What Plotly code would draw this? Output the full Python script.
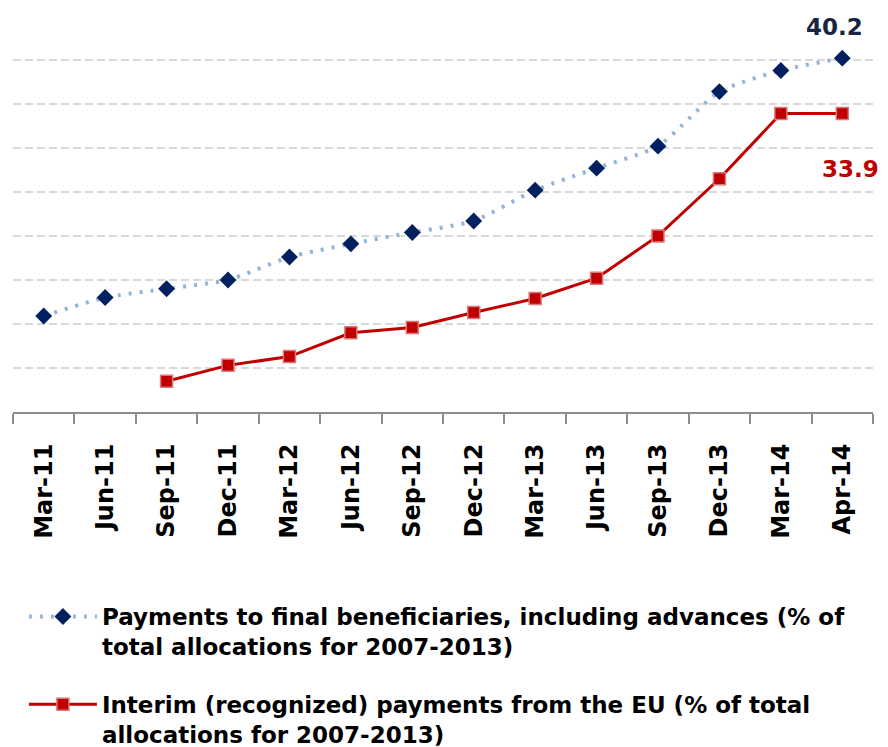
import plotly.graph_objects as go

categories = ["Mar-11", "Jun-11", "Sep-11", "Dec-11", "Mar-12", "Jun-12", "Sep-12",
              "Dec-12", "Mar-13", "Jun-13", "Sep-13", "Dec-13", "Mar-14", "Apr-14"]
payments_beneficiaries = [10.9, 13.0, 14.0, 15.0, 17.6, 19.1, 20.4, 21.7, 25.2, 27.7,
                          30.2, 36.4, 38.8, 40.2]
interim_payments = [None, None, 3.5, 5.3, 6.3, 9.0, 9.6, 11.3, 12.9, 15.2,
                    20.0, 26.5, 33.9, 33.9]

name_benef = "Payments to final beneficiaries, including advances (% of<br>total allocations for 2007-2013)"
name_interim = "Interim (recognized) payments from the EU (% of total<br>allocations for 2007-2013)"
title_text = "EU Structural Funds"

FONT = "'DejaVu Sans', 'Open Sans', sans-serif"

fig = go.Figure()
fig.add_trace(go.Scatter(
    x=categories, y=payments_beneficiaries, name=name_benef, mode="lines+markers",
    legendgroup="a",
    line=dict(color="#95B3D7", width=4, dash="3px,8px", shape="spline", smoothing=0.6),
    marker=dict(symbol="diamond", size=13, color="#002060"),
))
fig.add_trace(go.Scatter(
    x=categories, y=interim_payments, name=name_interim, mode="lines+markers",
    legendgroup="b",
    line=dict(color="#C00000", width=3),
    marker=dict(symbol="square", size=12, color="#C00000",
                line=dict(color="#D87878", width=1.5)),
))

fig.add_annotation(x=categories[-1], y=payments_beneficiaries[-1], text="<b>40.2</b>",
                   showarrow=False, yshift=31, xshift=-8,
                   font=dict(family=FONT, size=23, color="#17263F"))
fig.add_annotation(x=categories[-1], y=interim_payments[-1], text="<b>33.9</b>",
                   showarrow=False, yshift=-55, xshift=8,
                   font=dict(family=FONT, size=23, color="#C00000"))
fig.add_annotation(x=0.5, xref="paper", y=0.998, yref="paper", yanchor="bottom",
                   text="<b>" + title_text + "</b>", showarrow=False,
                   font=dict(family=FONT, size=24, color="#000000"))

fig.update_layout(
    width=880, height=739,
    margin=dict(l=5, r=15, t=7, b=335, autoexpand=False),
    paper_bgcolor="white", plot_bgcolor="white",
    font=dict(family=FONT, color="#000000"),
    showlegend=True,
    legend=dict(orientation="v", x=0.0127, xanchor="left", y=-0.461, yanchor="top",
                font=dict(family=FONT, size=23, color="#000000", weight="bold"),
                valign="top", tracegroupgap=25, itemwidth=68),
    xaxis=dict(type="category", range=[-0.5, 13.5], showline=True,
               linecolor="#8C8C8C", linewidth=2,
               ticks="outside", tickson="boundaries", ticklen=10, tickcolor="#8C8C8C",
               tickwidth=2, tickangle=-90, showgrid=False, automargin=False,
               tickfont=dict(family=FONT, size=24, color="#000000", weight="bold"),
               ticklabelstandoff=20),
    yaxis=dict(range=[0, 45.1], dtick=5, tick0=0, showticklabels=False, showgrid=True,
               gridcolor="#D9D9D9", gridwidth=2, griddash="8px,4px",
               zeroline=False, showline=False, ticks="", automargin=False),
)

fig.write_html("out.html")
